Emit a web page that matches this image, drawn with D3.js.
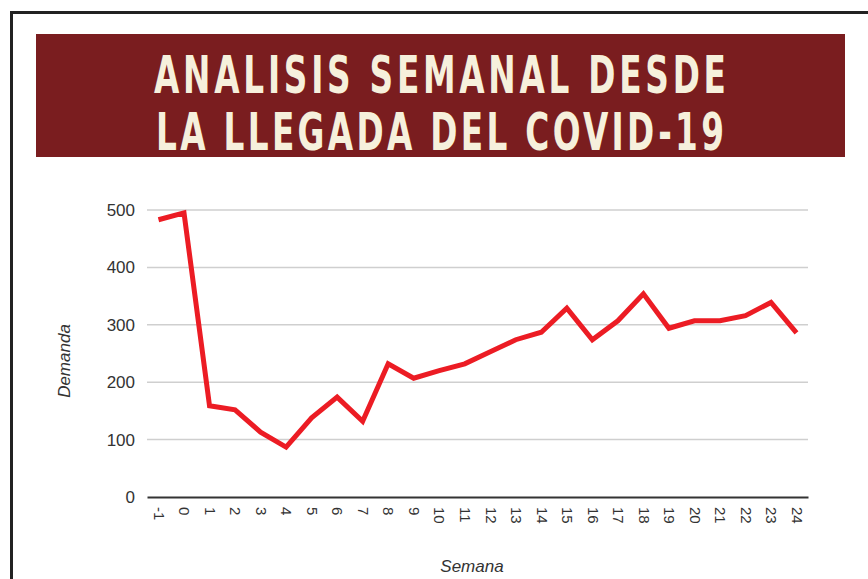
<!DOCTYPE html>
<html>
<head>
<meta charset="utf-8">
<script src="https://cdn.jsdelivr.net/npm/d3@7"></script>
<style>
  body { margin: 0; background: #fff; }
  svg { display: block; }
</style>
</head>
<body>
<svg id="chart" width="868" height="579"></svg>
<script>
// semanas desde la llegada del covid
const weeks = [-1, 0, 1, 2, 3, 4, 5, 6, 7, 8, 9, 10, 11, 12, 13, 14, 15, 16, 17, 18, 19, 20, 21, 22, 23, 24];
const demand = [483, 495, 159, 152, 113, 87, 138, 174, 132, 232, 207, 220, 232, 253, 274, 287, 329, 274, 307, 354, 294, 307, 307, 316, 339, 286];
const yTicks = [0, 100, 200, 300, 400, 500];
const titleLines = ["ANALISIS SEMANAL DESDE", "LA LLEGADA DEL COVID-19"];

const svg = d3.select('#chart');

// marco
svg.append('rect')
  .attr('x', 11.5).attr('y', 12.5)
  .attr('width', 900).attr('height', 620)
  .attr('fill', 'none')
  .attr('stroke', '#222')
  .attr('stroke-width', 3);

// banner
svg.append('rect')
  .attr('x', 36).attr('y', 34)
  .attr('width', 809).attr('height', 123)
  .attr('fill', '#7a1d1f');

// letras estrechas y separadas, como la tipografia del cartel
let squeeze = 0.63;
svg.selectAll('.title')
  .data(titleLines)
  .enter().append('text')
  .attr('class', 'title')
  .attr('transform', (d, i) => 'translate(440,' + (93 + i * 57) + ') scale(' + squeeze + ',1)')
  .attr('text-anchor', 'middle')
  .attr('textLength', (d, i) => (i == 0 ? 572 : 568) / squeeze)
  .attr('lengthAdjust', 'spacing')
  .attr('fill', '#f6f0dc')
  .style('font-family', '"DejaVu Sans", sans-serif')
  .style('font-weight', 'bold')
  .style('font-size', '52px')
  .text(d => d);

let margin = {left: 147, right: 808, top: 210, bottom: 497};

let x = d3.scalePoint()
  .domain(weeks)
  .range([margin.left, margin.right])
  .padding(0.45);

let y = d3.scaleLinear()
  .domain([0, 500])
  .range([margin.bottom, margin.top]);

// rejilla
svg.append('g')
  .selectAll('line')
  .data(yTicks.filter(t => t > 0))
  .enter().append('line')
  .attr('x1', margin.left)
  .attr('x2', margin.right)
  .attr('y1', d => y(d))
  .attr('y2', d => y(d))
  .attr('stroke', '#cfcfcf')
  .attr('stroke-width', 1.5);

// eje y
let yAxis = svg.append('g')
  .attr('transform', 'translate(' + margin.left + ',0)')
  .call(d3.axisLeft(y).tickValues(yTicks).tickSize(0).tickPadding(12));
yAxis.select('.domain').remove();
yAxis.selectAll('text')
  .attr('fill', '#333')
  .style('font-family', '"Liberation Sans", Arial, sans-serif')
  .style('font-size', '17px');

// eje x
let xAxis = svg.append('g')
  .attr('transform', 'translate(0,' + margin.bottom + ')')
  .call(d3.axisBottom(x).tickSize(0).tickPadding(0));
xAxis.select('.domain')
  .attr('stroke', '#333')
  .attr('stroke-width', 2);
xAxis.selectAll('text')
  .attr('fill', '#333')
  .attr('transform', 'translate(0,10) rotate(90)')
  .attr('x', 0).attr('y', 0)
  .attr('dy', '0.35em')
  .attr('text-anchor', 'start')
  .style('font-family', '"Liberation Sans", Arial, sans-serif')
  .style('font-size', '15px');

// linea
let line = d3.line()
  .x((d, i) => x(weeks[i]))
  .y(d => y(d));

svg.append('path')
  .datum(demand)
  .attr('d', line)
  .attr('fill', 'none')
  .attr('stroke', '#ec1c24')
  .attr('stroke-width', 5)
  .attr('stroke-linejoin', 'miter');

// titulos de ejes
svg.append('text')
  .attr('transform', 'translate(70,361) rotate(-90)')
  .attr('text-anchor', 'middle')
  .attr('fill', '#333')
  .style('font-family', '"Liberation Sans", Arial, sans-serif')
  .style('font-style', 'italic')
  .style('font-size', '17px')
  .text('Demanda');

svg.append('text')
  .attr('x', 472)
  .attr('y', 572)
  .attr('text-anchor', 'middle')
  .attr('fill', '#333')
  .style('font-family', '"Liberation Sans", Arial, sans-serif')
  .style('font-style', 'italic')
  .style('font-size', '17px')
  .text('Semana');
</script>
</body>
</html>
